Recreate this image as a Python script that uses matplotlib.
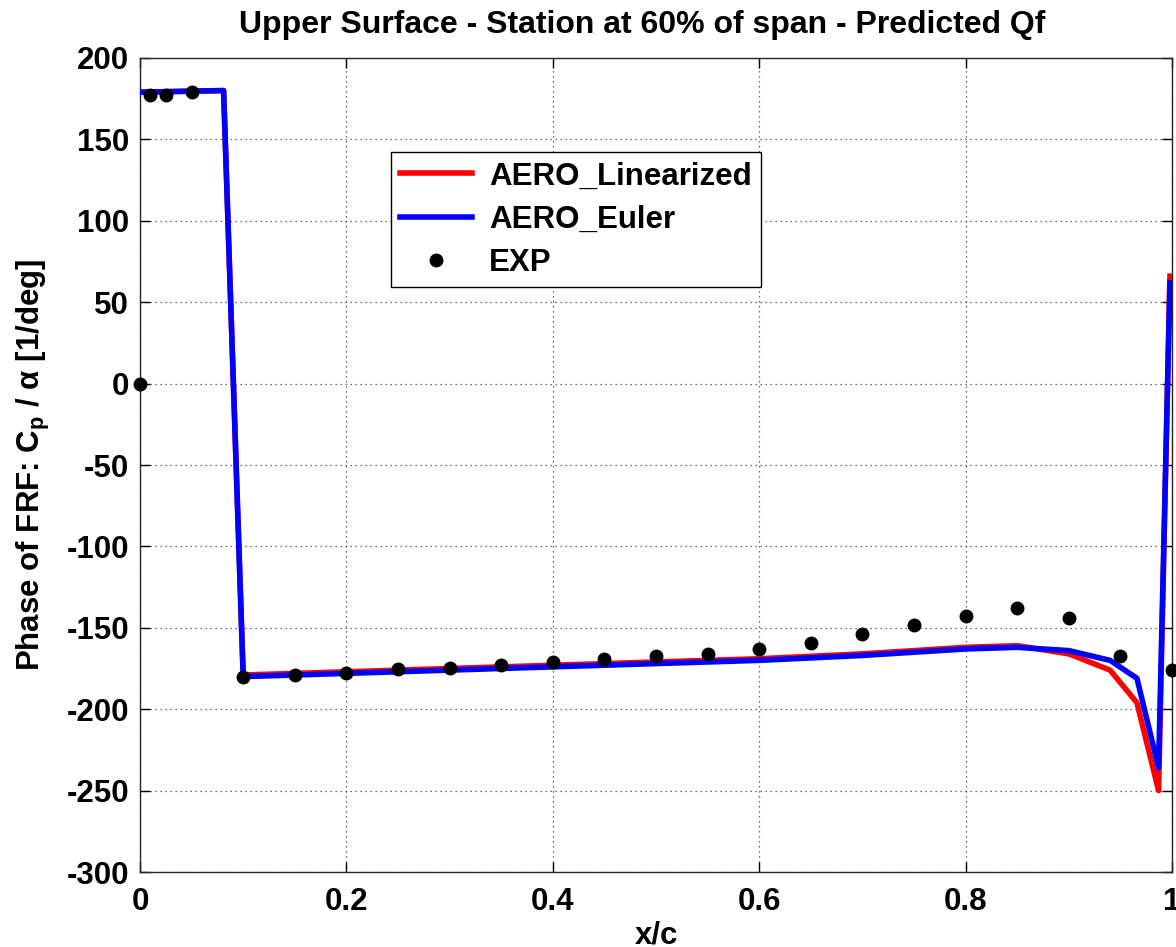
import matplotlib
matplotlib.use('Agg')
import matplotlib.pyplot as plt
import numpy as np

plt.rcParams['font.family'] = ['Liberation Sans', 'DejaVu Sans']
plt.rcParams['font.weight'] = 'bold'
plt.rcParams['axes.unicode_minus'] = False
plt.rcParams['mathtext.fontset'] = 'custom'
plt.rcParams['mathtext.rm'] = 'Liberation Sans:bold'
plt.rcParams['mathtext.it'] = 'Liberation Sans:bold'
plt.rcParams['mathtext.bf'] = 'Liberation Sans:bold'

# AERO_Linearized (red)
x_lin = [0.0, 0.04, 0.081, 0.1, 0.2, 0.3, 0.4, 0.5, 0.6, 0.7, 0.75, 0.8,
         0.85, 0.9, 0.94, 0.966, 0.987, 0.998]
y_lin = [179, 179.5, 180, -179, -177, -175, -173, -171, -169, -166, -164, -162,
         -161, -166, -176, -196, -250, 66]

# AERO_Euler (blue)
x_eul = [0.0, 0.04, 0.081, 0.1, 0.2, 0.3, 0.4, 0.5, 0.6, 0.7, 0.75, 0.8,
         0.85, 0.9, 0.94, 0.966, 0.987, 0.998]
y_eul = [179, 179.5, 180, -180, -178, -176, -174, -172, -170, -167, -165, -163,
         -162, -164, -170, -181, -236, 62]

# EXP
x_exp = [0.0, 0.01, 0.025, 0.05, 0.1, 0.15, 0.2, 0.25, 0.3, 0.35, 0.4, 0.45,
         0.5, 0.55, 0.6, 0.65, 0.7, 0.75, 0.8, 0.85, 0.9, 0.95, 1.0]
y_exp = [0, 177, 177, 179, -180, -179, -177.5, -175.5, -174.5, -173, -171, -169,
         -167.5, -166.3, -162.8, -159.3, -154, -148, -143, -138, -144, -167.5, -176]

fs = 22.5

fig = plt.figure(figsize=(11.76, 9.47), dpi=100)
ax = fig.add_axes([140 / 1176, 75 / 947, 1032 / 1176, 814 / 947])

ax.plot(x_lin, y_lin, color='#ff0000', lw=4, label='AERO_Linearized', zorder=3)
ax.plot(x_eul, y_eul, color='#0000ff', lw=4, label='AERO_Euler', zorder=4)
ax.plot(x_exp, y_exp, 'o', color='k', ms=9, label='EXP', zorder=5, clip_on=False)

ax.set_xlim(0, 1)
ax.set_ylim(-300, 200)
ax.set_xticks(np.arange(0, 1.01, 0.2))
ax.set_xticklabels(['0', '0.2', '0.4', '0.6', '0.8', '1'])
ax.set_yticks(np.arange(-300, 201, 50))

ax.grid(True, linestyle=(0, (1, 3)), color='0.25', lw=0.9)
ax.tick_params(direction='in', length=7, width=1, top=True, right=True,
               labelsize=fs, pad=8)
ax.tick_params(axis='x', pad=11)
for s in ax.spines.values():
    s.set_linewidth(1)
    s.set_color('0.15')

ax.set_title('Upper Surface - Station at 60% of span - Predicted Qf',
             fontsize=23, fontweight='bold', pad=18, x=0.487)
ax.set_xlabel('x/c', fontsize=fs, fontweight='bold', labelpad=2)
ax.set_ylabel(r'Phase of FRF: C$_{p}$ / $\alpha$ [1/deg]', fontsize=fs,
              fontweight='bold', labelpad=10)

leg = ax.legend(loc='upper left', bbox_to_anchor=(0.243, 0.8845),
                borderaxespad=0, fontsize=fs, fancybox=False, framealpha=1,
                edgecolor='k', handlelength=2.3, handletextpad=0.55,
                labelspacing=0.42, borderpad=0.3, numpoints=1)
leg.get_frame().set_linewidth(1)

fig.savefig('out.png', dpi=100)
